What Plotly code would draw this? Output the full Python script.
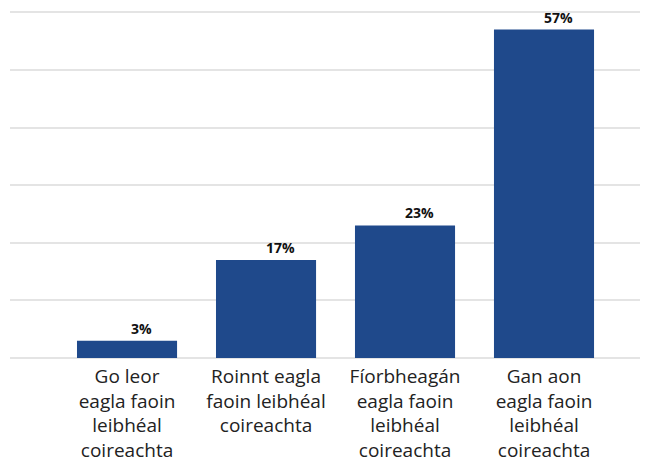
import plotly.graph_objects as go

# Catagóirí agus luachanna (%)
CATEGORIES = [
    "Go leor<br>eagla faoin<br>leibhéal<br>coireachta",
    "Roinnt eagla<br>faoin leibhéal<br>coireachta",
    "Fíorbheagán<br>eagla faoin<br>leibhéal<br>coireachta",
    "Gan aon<br>eagla faoin<br>leibhéal<br>coireachta",
]
VALUES = [3, 17, 23, 57]
VALUE_LABELS = [f"{v}%" for v in VALUES]

BAR_COLOR = "#1f498b"
GRID_COLOR = "#e4e4e4"

fig = go.Figure()

fig.add_trace(
    go.Bar(
        x=CATEGORIES,
        y=VALUES,
        marker={"color": BAR_COLOR, "line": {"width": 0}},
        hoverinfo="skip",
    )
)

# lipéid na luachanna, beagán ar dheis mar atá sa bhunchairt
for cat, val, label in zip(CATEGORIES, VALUES, VALUE_LABELS):
    fig.add_annotation(
        x=cat,
        y=val,
        text=f"<b>{label}</b>",
        showarrow=False,
        yanchor="bottom",
        xshift=14,
        yshift=1,
        font={"family": "Open Sans", "size": 14, "color": "#111111"},
    )

# leathanach le corrlach 8px, mar sin tá an figiúr beagán níos lú
fig.update_layout(
    width=640,
    height=452,
    margin={"l": 2, "r": 1, "t": 2, "b": 102},
    paper_bgcolor="white",
    plot_bgcolor="white",
    showlegend=False,
    bargap=0.28,
    font={"family": "Open Sans", "color": "#222222"},
)

fig.update_xaxes(
    range=[-0.842, 3.741],
    showgrid=False,
    showline=False,
    ticks="",
    automargin=False,
    ticklabelstandoff=5,
    tickfont={"family": "Open Sans", "size": 19, "color": "#222222"},
)

fig.update_yaxes(
    range=[0, 60.4],
    dtick=10,
    showticklabels=False,
    showgrid=True,
    gridcolor=GRID_COLOR,
    gridwidth=2,
    zeroline=True,
    zerolinecolor=GRID_COLOR,
    zerolinewidth=2,
)

fig.write_html("out.html")
